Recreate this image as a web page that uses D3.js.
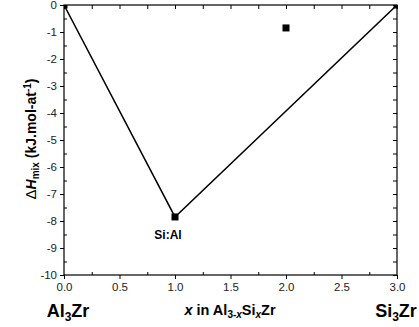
<!DOCTYPE html>
<html>
<head>
<meta charset="utf-8">
<script src="https://cdn.jsdelivr.net/npm/d3@7"></script>
<style>
  html, body { margin: 0; padding: 0; background: #fff; }
  svg { display: block; font-family: "Liberation Sans", Arial, sans-serif; }
</style>
</head>
<body>
<svg id="chart" width="419" height="327"></svg>
<script>
// Formation enthalpy across the Al3-xSixZr series
const xValues = [0, 1, 2, 3];
const dHValues = [0, -7.85, -0.85, 0];
// convex hull vertices (indices into the arrays above)
const hullIndex = [0, 1, 3];
const xTicks = [0, 0.5, 1, 1.5, 2, 2.5, 3];
const yTicks = [0, -1, -2, -3, -4, -5, -6, -7, -8, -9, -10];

const svg = d3.select("#chart");
const m = { left: 64, right: 397, top: 5, bottom: 275 };

const x = d3.scaleLinear().domain([0, 3]).range([m.left, m.right]);
const y = d3.scaleLinear().domain([-10, 0]).range([m.bottom, m.top]);

const xMinor = d3.range(0.25, 3, 0.5);
const yMinor = d3.range(-9.5, 0, 1);

const styleAxis = g => {
  g.select(".domain").remove();
  g.selectAll(".tick line").attr("stroke", "#000").attr("stroke-width", 1);
  g.selectAll(".tick text").attr("font-size", 11.5).attr("fill", "#222")
    .attr("font-family", "Liberation Sans, Arial, sans-serif");
};

// bottom axis: major ticks outward with labels, minor inward
svg.append("g").attr("transform", `translate(0,${m.bottom})`)
  .call(d3.axisBottom(x).tickValues(xTicks).tickSize(4).tickPadding(4).tickFormat(d3.format(".1f")))
  .call(styleAxis);
svg.append("g").attr("transform", `translate(0,${m.bottom})`)
  .call(d3.axisTop(x).tickValues(xMinor).tickSize(3).tickFormat(""))
  .call(styleAxis);
// top axis: all ticks inward
svg.append("g").attr("transform", `translate(0,${m.top})`)
  .call(d3.axisBottom(x).tickValues(xTicks.concat(xMinor)).tickSize(4).tickFormat(""))
  .call(styleAxis);
// left axis: major outward with labels, minor inward
svg.append("g").attr("transform", `translate(${m.left},0)`)
  .call(d3.axisLeft(y).tickValues(yTicks).tickSize(4).tickPadding(3).tickFormat(d => d === 0 ? "0" : "-" + Math.abs(d)))
  .call(styleAxis);
svg.append("g").attr("transform", `translate(${m.left},0)`)
  .call(d3.axisRight(y).tickValues(yMinor).tickSize(3).tickFormat(""))
  .call(styleAxis);
// right axis: all ticks inward
svg.append("g").attr("transform", `translate(${m.right},0)`)
  .call(d3.axisLeft(y).tickValues(yTicks.concat(yMinor)).tickSize(4).tickFormat(""))
  .call(styleAxis);

// clip marks to the plot area
svg.append("clipPath").attr("id", "plot-clip")
  .append("rect")
  .attr("x", m.left).attr("y", m.top)
  .attr("width", m.right - m.left).attr("height", m.bottom - m.top);

const plot = svg.append("g").attr("clip-path", "url(#plot-clip)");

// hull line
const hull = hullIndex.map(i => [xValues[i], dHValues[i]]);
plot.append("path")
  .datum(hull)
  .attr("fill", "none").attr("stroke", "#000").attr("stroke-width", 1.5)
  .attr("d", d3.line().x(d => x(d[0])).y(d => y(d[1])));

// data points
plot.append("g").selectAll("rect").data(xValues.map((v, i) => [v, dHValues[i]])).join("rect")
  .attr("x", d => x(d[0]) - 3.5).attr("y", d => y(d[1]) - 3.5)
  .attr("width", 7).attr("height", 7).attr("fill", "#000");

// frame
svg.append("rect")
  .attr("x", m.left).attr("y", m.top)
  .attr("width", m.right - m.left).attr("height", m.bottom - m.top)
  .attr("fill", "none").attr("stroke", "#000").attr("stroke-width", 1.2);

// point annotation
svg.append("text")
  .attr("x", x(1) - 7).attr("y", y(-7.85) + 22)
  .attr("text-anchor", "middle").attr("font-size", 12).attr("font-weight", "bold")
  .text("Si:Al");

// end member labels
const endLabel = (px, anchor, base, sub, rest) => {
  const t = svg.append("text").attr("x", px).attr("y", 317)
    .attr("text-anchor", anchor).attr("font-size", 18).attr("font-weight", "bold");
  t.append("tspan").text(base);
  t.append("tspan").attr("font-size", 12).attr("dy", 4).text(sub);
  t.append("tspan").attr("dy", -4).text(rest);
};
endLabel(68, "middle", "Al", "3", "Zr");
endLabel(396, "middle", "Si", "3", "Zr");

// x axis title
const xt = svg.append("text").attr("x", 230).attr("y", 315)
  .attr("text-anchor", "middle").attr("font-size", 14.5).attr("font-weight", "bold");
xt.append("tspan").attr("font-style", "italic").text("x");
xt.append("tspan").text(" in Al");
xt.append("tspan").attr("font-size", 10).attr("dy", 3).text("3-");
xt.append("tspan").attr("font-size", 10).attr("font-style", "italic").text("x");
xt.append("tspan").attr("dy", -3).text("Si");
xt.append("tspan").attr("font-size", 10).attr("font-style", "italic").attr("dy", 3).text("x");
xt.append("tspan").attr("dy", -3).text("Zr");

// y axis title
const yt = svg.append("text")
  .attr("transform", `translate(36, 139) rotate(-90)`)
  .attr("text-anchor", "middle").attr("font-size", 14).attr("font-weight", "bold");
yt.append("tspan").attr("font-weight", "normal").attr("font-size", 15).text("\u0394");
yt.append("tspan").attr("font-style", "italic").text("H");
yt.append("tspan").attr("font-size", 10).attr("dy", 3).text("mix");
yt.append("tspan").attr("dy", -3).text(" (kJ.mol-at");
yt.append("tspan").attr("font-size", 10).attr("dy", -5).text("-1");
yt.append("tspan").attr("dy", 5).text(")");
</script>
</body>
</html>
